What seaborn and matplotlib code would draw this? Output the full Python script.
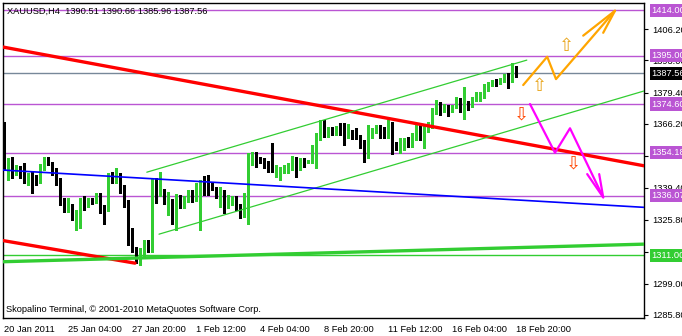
import numpy as np
import pandas as pd
import matplotlib
matplotlib.use("Agg")
import matplotlib.pyplot as plt
import matplotlib.transforms as mtransforms
import seaborn as sns

# ---------------- data (XAUUSD H4 candles) ----------------
opens = [1366.5, 1347.1, 1352.0, 1345.4, 1347.1, 1346.1, 1342.6, 1343.7, 1343.3, 1341.5,
         1347.1, 1352.0, 1349.9, 1346.8, 1343.0, 1333.9, 1331.1, 1332.1, 1326.9, 1326.9,
         1332.4, 1331.4, 1334.5, 1332.8, 1334.9, 1331.1, 1329.7, 1345.1, 1341.9, 1344.7,
         1338.7, 1332.8, 1321.3, 1313.1, 1307.5, 1310.3, 1316.7, 1313.1, 1342.9, 1336.1,
         1338.1, 1333.5, 1333.9, 1325.5, 1335.9, 1331.4, 1335.6, 1337.0, 1335.6, 1337.7,
         1341.2, 1341.2, 1340.2, 1339.4, 1335.9, 1337.7, 1332.8, 1334.2, 1334.9, 1331.7,
         1328.6, 1336.3, 1352.7, 1353.9, 1351.5, 1351.0, 1350.1, 1349.6, 1346.4, 1346.4,
         1347.3, 1347.3, 1347.5, 1351.0, 1347.5, 1351.0, 1350.1, 1350.1, 1354.6, 1360.2,
         1367.2, 1362.3, 1363.7, 1362.7, 1365.8, 1363.7, 1362.5, 1363.2, 1361.3, 1360.9,
         1357.1, 1352.4, 1360.9, 1363.0, 1364.4, 1361.8, 1360.9, 1364.7, 1356.9, 1356.0,
         1356.0, 1358.8, 1357.4, 1360.9, 1364.4, 1360.2, 1364.4, 1365.8, 1371.1, 1374.9,
         1371.7, 1373.5, 1372.1, 1373.5, 1377.0, 1371.4, 1374.9, 1373.9, 1376.7, 1376.3,
         1377.7, 1380.9, 1383.0, 1384.3, 1383.7, 1384.3, 1386.6, 1384.0, 1390.51]
highs = [1367.0, 1352.0, 1352.5, 1348.9, 1348.5, 1349.9, 1345.4, 1346.1, 1344.7, 1349.4,
         1352.5, 1352.5, 1350.3, 1347.5, 1343.3, 1334.9, 1334.9, 1332.4, 1330.0, 1334.9,
         1335.9, 1334.9, 1334.9, 1337.3, 1337.3, 1332.1, 1345.7, 1346.1, 1347.5, 1345.4,
         1340.5, 1334.2, 1322.3, 1314.5, 1313.8, 1317.4, 1317.4, 1343.3, 1343.3, 1346.0,
         1338.7, 1337.7, 1334.5, 1336.6, 1336.3, 1335.9, 1338.4, 1338.4, 1341.2, 1342.6,
         1344.3, 1344.7, 1341.9, 1339.8, 1339.8, 1338.4, 1336.3, 1335.9, 1335.9, 1332.5,
         1337.0, 1354.1, 1354.5, 1354.5, 1352.5, 1352.0, 1350.6, 1358.1, 1348.9, 1348.2,
         1348.9, 1349.6, 1352.9, 1352.4, 1351.7, 1351.7, 1351.0, 1357.4, 1362.3, 1367.9,
         1367.9, 1365.1, 1365.1, 1365.5, 1366.5, 1366.5, 1366.0, 1363.7, 1364.4, 1361.6,
         1359.5, 1365.8, 1364.7, 1365.8, 1365.8, 1365.1, 1367.9, 1367.2, 1358.8, 1360.4,
         1360.4, 1360.9, 1362.3, 1366.1, 1365.8, 1365.8, 1367.2, 1372.8, 1376.3, 1375.6,
         1374.5, 1374.2, 1374.2, 1377.7, 1377.3, 1381.9, 1375.9, 1377.7, 1379.5, 1379.5,
         1382.9, 1384.0, 1384.7, 1385.1, 1385.7, 1387.1, 1387.5, 1392.0, 1390.66]
lows = [1346.8, 1342.6, 1343.3, 1344.7, 1343.3, 1341.2, 1340.5, 1337.0, 1340.5, 1341.2,
        1346.8, 1348.9, 1344.7, 1340.5, 1332.1, 1329.3, 1329.3, 1325.8, 1321.6, 1322.3,
        1330.0, 1331.1, 1332.4, 1332.8, 1328.6, 1324.1, 1329.7, 1341.2, 1341.5, 1337.3,
        1331.4, 1315.3, 1312.4, 1307.5, 1306.8, 1309.6, 1312.4, 1312.4, 1332.8, 1335.8,
        1332.5, 1327.9, 1324.1, 1321.6, 1330.7, 1331.0, 1333.5, 1333.5, 1333.8, 1321.6,
        1336.3, 1336.3, 1338.4, 1334.9, 1331.4, 1328.9, 1330.7, 1332.1, 1330.0, 1326.5,
        1327.2, 1324.1, 1348.9, 1348.2, 1349.6, 1347.5, 1346.1, 1346.1, 1344.0, 1342.6,
        1345.4, 1345.4, 1346.8, 1344.0, 1346.8, 1348.2, 1349.6, 1349.6, 1347.5, 1359.5,
        1360.9, 1360.9, 1361.6, 1361.6, 1361.6, 1357.4, 1360.2, 1359.9, 1359.9, 1356.0,
        1350.3, 1351.7, 1360.2, 1362.3, 1360.2, 1360.2, 1360.2, 1353.4, 1355.3, 1353.8,
        1355.3, 1356.7, 1356.7, 1359.5, 1359.5, 1356.2, 1363.0, 1364.7, 1370.3, 1370.0,
        1371.1, 1369.7, 1371.4, 1373.1, 1371.1, 1368.3, 1372.1, 1373.5, 1376.0, 1375.9,
        1377.0, 1380.1, 1382.3, 1382.3, 1382.9, 1383.7, 1381.5, 1383.7, 1385.96]
closes = [1347.5, 1351.8, 1345.4, 1348.0, 1345.4, 1342.6, 1344.0, 1342.3, 1341.9, 1347.5,
          1351.8, 1349.6, 1345.4, 1342.6, 1333.5, 1331.4, 1332.1, 1326.5, 1327.5, 1332.8,
          1331.4, 1334.5, 1332.8, 1334.9, 1330.3, 1329.7, 1345.1, 1341.9, 1344.3, 1338.7,
          1332.8, 1320.9, 1313.1, 1308.2, 1310.3, 1316.7, 1312.9, 1342.9, 1334.9, 1337.7,
          1333.5, 1334.5, 1325.1, 1336.3, 1331.4, 1335.3, 1337.0, 1335.3, 1338.4, 1341.5,
          1340.5, 1339.8, 1339.1, 1335.9, 1337.0, 1329.3, 1335.6, 1335.3, 1331.4, 1328.6,
          1336.3, 1353.9, 1353.9, 1351.0, 1350.3, 1348.2, 1346.8, 1346.4, 1348.2, 1347.5,
          1348.2, 1348.9, 1350.3, 1348.2, 1350.6, 1348.7, 1350.6, 1354.8, 1361.6, 1367.2,
          1363.0, 1364.1, 1362.7, 1364.1, 1362.3, 1362.7, 1364.2, 1360.2, 1360.2, 1356.7,
          1352.4, 1361.6, 1363.7, 1364.4, 1361.3, 1360.4, 1364.4, 1356.7, 1356.0, 1358.1,
          1358.8, 1357.1, 1361.3, 1364.4, 1360.4, 1364.4, 1366.1, 1371.4, 1374.5, 1373.1,
          1373.5, 1371.4, 1373.5, 1377.3, 1371.7, 1374.2, 1373.5, 1377.3, 1378.7, 1378.7,
          1381.9, 1383.3, 1384.0, 1382.9, 1385.1, 1386.1, 1384.0, 1390.3, 1387.56]

x_tick_bars = [0, 16, 32, 48, 64, 80, 96, 112, 128]
x_tick_labels = ["20 Jan 2011", "25 Jan 04:00", "27 Jan 20:00", "1 Feb 12:00", "4 Feb 04:00",
                 "8 Feb 20:00", "11 Feb 12:00", "16 Feb 04:00", "18 Feb 20:00"]
y_tick_values = [1406.20, 1393.00, 1379.40, 1366.20, 1352.80, 1339.40, 1325.80, 1312.40, 1299.00, 1285.80]

# horizontal levels
purple_levels = [1414.00, 1395.00, 1374.60, 1354.18, 1336.07]
support_level = 1311.00
last_price = 1387.56

# trend lines (bar index, price)
red_main_x, red_main_y = [-0.25, 160.0], [1398.6, 1348.6]
red_low_x, red_low_y = [-0.25, 32.75], [1317.1, 1307.6]
green_thick_x, green_thick_y = [-0.25, 160.0], [1308.2, 1315.6]
chan_up_x, chan_up_y = [35.7, 130.7], [1345.9, 1393.1]
chan_lo_x, chan_lo_y = [38.75, 160.0], [1319.8, 1380.1]
blue_x, blue_y = [-0.25, 160.0], [1346.8, 1331.1]

# forecast paths
orange_x, orange_y = [129.8, 135.8, 138.0, 152.75], [1382.6, 1394.5, 1385.1, 1413.9]
orange_barb1_x, orange_barb1_y = [144.8, 152.75, 149.8], [1403.4, 1413.9, 1404.6]
magenta_x, magenta_y = [131.5, 137.75, 141.5, 149.8], [1374.6, 1354.1, 1364.4, 1335.3]
magenta_barb_x, magenta_barb_y = [145.8, 149.8, 148.8], [1345.1, 1335.3, 1345.1]
up_arrow_x, up_arrow_y = [133.8, 140.7], [1382.2, 1399.0]
down_arrow_x, down_arrow_y = [129.4, 142.3], [1370.0, 1349.7]

# ---------------- figure ----------------
sns.set_style("white")
plt.rcParams["font.family"] = ["Liberation Sans", "DejaVu Sans"]
FS = 6.7

W, H = 682, 336
fig = plt.figure(figsize=(W / 100, H / 100), dpi=100)
ax = fig.add_axes([3 / W, 18 / H, (644 - 3) / W, (318 - 3) / H])
ax.set_xlim(-0.25, 160.0)
ax.set_ylim(1284.5, 1417.15)

df = pd.DataFrame({"i": np.arange(len(opens)), "open": opens, "high": highs,
                   "low": lows, "close": closes})
df["bull"] = df["close"] >= df["open"]
bull_c, bear_c = "#32CD32", "#000000"
colors = np.where(df["bull"], bull_c, bear_c)

ax.vlines(df["i"], df["low"], df["high"], colors=colors, linewidth=1.0, zorder=3,
          antialiased=False)
body_lo = np.minimum(df["open"], df["close"])
body_h = np.maximum(np.abs(df["close"] - df["open"]), 0.4)
ax.bar(df["i"], body_h, bottom=body_lo, width=0.64, color=colors, linewidth=0, zorder=3,
       antialiased=False)

# horizontal levels
for lv in purple_levels:
    ax.axhline(lv, color="#BA55D3", linewidth=1.0, zorder=2)
ax.axhline(last_price, color="#778899", linewidth=1.0, zorder=2)
ax.axhline(support_level, color="#32CD32", linewidth=1.0, zorder=2)

def line(xs, ys, color, lw, z=4):
    sns.lineplot(x=xs, y=ys, color=color, linewidth=lw, sort=False, estimator=None,
                 ax=ax, zorder=z, legend=False)

line(red_main_x, red_main_y, "#FF0000", 2.4)
line(red_low_x, red_low_y, "#FF0000", 2.4)
line(green_thick_x, green_thick_y, "#32CD32", 2.4)
line(chan_up_x, chan_up_y, "#32CD32", 0.9)
line(chan_lo_x, chan_lo_y, "#32CD32", 0.9)
line(blue_x, blue_y, "#0000FF", 1.2)
line(orange_x, orange_y, "#FFA500", 1.6, 5)
line(orange_barb1_x, orange_barb1_y, "#FFA500", 1.6, 5)
line(magenta_x, magenta_y, "#FF00FF", 1.6, 5)
line(magenta_barb_x, magenta_barb_y, "#FF00FF", 1.6, 5)

for xx, yy in zip(up_arrow_x, up_arrow_y):
    ax.text(xx, yy, "\u21e7", family="DejaVu Sans", fontsize=13, color="#E8A317",
            ha="center", va="center", zorder=6)
for xx, yy in zip(down_arrow_x, down_arrow_y):
    ax.text(xx, yy, "\u21e9", family="DejaVu Sans", fontsize=13, color="#FF4500",
            ha="center", va="center", zorder=6)

# axes styling
for s in ax.spines.values():
    s.set_color("black")
    s.set_linewidth(1.0)
ax.yaxis.tick_right()
ax.set_yticks(y_tick_values)
ax.set_yticklabels([f"{v:.2f}" for v in y_tick_values])
ax.set_xticks(x_tick_bars)
ax.set_xticklabels(x_tick_labels, ha="left")
ax.tick_params(axis="both", direction="out", length=3, width=0.8, labelsize=FS,
               colors="black", pad=2)
ax.tick_params(axis="y", pad=3)
ax.set_xlabel("")
ax.set_ylabel("")
ax.grid(False)

# price labels at right
trans = mtransforms.blended_transform_factory(ax.transAxes, ax.transData)
def price_label(val, fc):
    ax.text(1.012, val, f"{val:.2f}", transform=trans, color="white", fontsize=FS,
            ha="left", va="center", clip_on=False, zorder=10,
            bbox=dict(boxstyle="square,pad=0.22", fc=fc, ec="none"))
for lv in purple_levels:
    price_label(lv, "#BA55D3")
price_label(last_price, "#000000")
price_label(support_level, "#32CD32")

fig.text(7 / W, 1 - 11 / H, "XAUUSD,H4  1390.51 1390.66 1385.96 1387.56",
         fontsize=FS, color="black", ha="left", va="center")
fig.text(6 / W, 1 - 309 / H, "Skopalino Terminal, \u00a9 2001-2010 MetaQuotes Software Corp.",
         fontsize=FS, color="black", ha="left", va="center")

fig.savefig("out.png", dpi=100, facecolor="white")
